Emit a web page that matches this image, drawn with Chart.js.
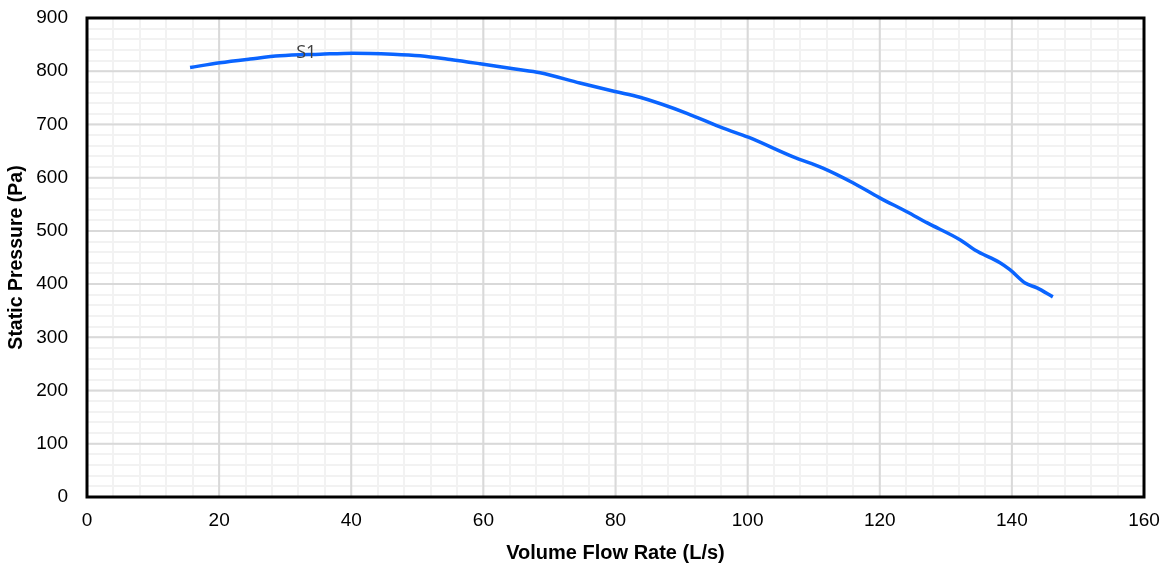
<!DOCTYPE html>
<html>
<head>
<meta charset="utf-8">
<script src="https://cdn.jsdelivr.net/npm/chart.js@4.4.0/dist/chart.umd.min.js"></script>
<style>
  html, body { margin: 0; padding: 0; background: #fff; }
  #wrap { width: 1166px; height: 563px; }
</style>
</head>
<body>
<div id="wrap"><canvas id="curve"></canvas></div>
<script>
// Fan curve S1
const flowRate = [15.6, 20.1, 24.7, 29.2, 35.3, 40.3, 46.3, 50.4, 55.0, 59.5, 64.8, 68.6, 74.6, 79.9, 83.7, 90.8,
                  96.3, 100.1, 106.9, 111.4, 116.0, 120.0, 124.1, 127.2, 132.2, 134.4, 138.2, 139.7, 142.0, 143.8, 146.2];
const staticPressure = [807, 816, 823, 829, 832, 834, 832, 829, 822, 814, 804, 797, 778, 762, 751, 721,
                        693, 676, 639, 618, 590, 562, 536, 515, 483, 464, 440, 427, 402, 393, 376];
const seriesName = 'S1';
const seriesLabelAt = [33.2, 835];

const xTicks = [0, 20, 40, 60, 80, 100, 120, 140, 160];
const yTicks = [0, 100, 200, 300, 400, 500, 600, 700, 800, 900];

const points = flowRate.map((x, i) => ({ x: x, y: staticPressure[i] }));

// major gridlines go over the minor ones, like the spreadsheet does it
const majorGridPlugin = {
    id: 'majorGrid',
    beforeDatasetsDraw(chart) {
        const { ctx, chartArea: a, scales } = chart;
        ctx.save();
        ctx.strokeStyle = '#d9d9d9';
        ctx.lineWidth = 2;
        ctx.beginPath();
        xTicks.forEach(v => {
            const px = scales.x.getPixelForValue(v);
            ctx.moveTo(px, a.top);
            ctx.lineTo(px, a.bottom);
        });
        yTicks.forEach(v => {
            const py = scales.y.getPixelForValue(v);
            ctx.moveTo(a.left, py);
            ctx.lineTo(a.right, py);
        });
        ctx.stroke();
        ctx.restore();
    }
};

// black frame round the plot area + series name label
const framePlugin = {
    id: 'frame',
    afterDatasetsDraw(chart) {
        const { ctx, chartArea: a, scales } = chart;
        ctx.save();
        ctx.font = '18px "Open Sans", sans-serif';
        ctx.fillStyle = '#404040';
        ctx.textAlign = 'center';
        ctx.textBaseline = 'middle';
        ctx.fillText(seriesName, scales.x.getPixelForValue(seriesLabelAt[0]), scales.y.getPixelForValue(seriesLabelAt[1]));
        ctx.strokeStyle = '#000';
        ctx.lineWidth = 3;
        ctx.strokeRect(a.left, a.top, a.right - a.left, a.bottom - a.top);
        ctx.restore();
    }
};

const tickFont = { family: 'Arial, "Liberation Sans", sans-serif', size: 19 };

new Chart(document.getElementById('curve'), {
    type: 'scatter',
    data: {
        datasets: [{
            label: seriesName,
            data: points,
            showLine: true,
            borderColor: '#0a64ff',
            borderWidth: 3.5,
            pointRadius: 0,
            tension: 0.4,
            cubicInterpolationMode: 'monotone'
        }]
    },
    options: {
        responsive: true,
        maintainAspectRatio: false,
        animation: false,
        layout: { padding: { top: 18, right: 22, left: 0, bottom: 0 } },
        plugins: { legend: { display: false }, tooltip: { enabled: false } },
        scales: {
            x: {
                type: 'linear',
                min: 0, max: 160,
                afterFit(s) { s.height = 66; s.paddingLeft = 0; s.paddingRight = 0; },
                ticks: {
                    stepSize: 4,
                    autoSkip: false,
                    maxRotation: 0,
                    color: '#000',
                    font: tickFont,
                    padding: 12,
                    callback: v => xTicks.includes(v) ? v : ''
                },
                grid: { color: '#f2f2f2', lineWidth: 2, drawTicks: false },
                border: { display: false },
                title: {
                    display: true,
                    text: 'Volume Flow Rate (L/s)',
                    color: '#000',
                    font: { family: 'Arial, "Liberation Sans", sans-serif', size: 20, weight: 'bold', lineHeight: 1.0 },
                    padding: 0
                }
            },
            y: {
                min: 0, max: 900,
                afterFit(s) { s.width = 87; s.paddingTop = 0; s.paddingBottom = 0; },
                ticks: {
                    stepSize: 20,
                    autoSkip: false,
                    color: '#000',
                    font: tickFont,
                    padding: 19,
                    callback: v => yTicks.includes(v) ? v : ''
                },
                grid: { color: '#f2f2f2', lineWidth: 2, drawTicks: false },
                border: { display: false },
                title: {
                    display: true,
                    text: 'Static Pressure (Pa)',
                    color: '#000',
                    font: { family: 'Arial, "Liberation Sans", sans-serif', size: 19.5, weight: 'bold' },
                    padding: { top: 5, bottom: 0 }
                }
            }
        }
    },
    plugins: [majorGridPlugin, framePlugin]
});
</script>
</body>
</html>
